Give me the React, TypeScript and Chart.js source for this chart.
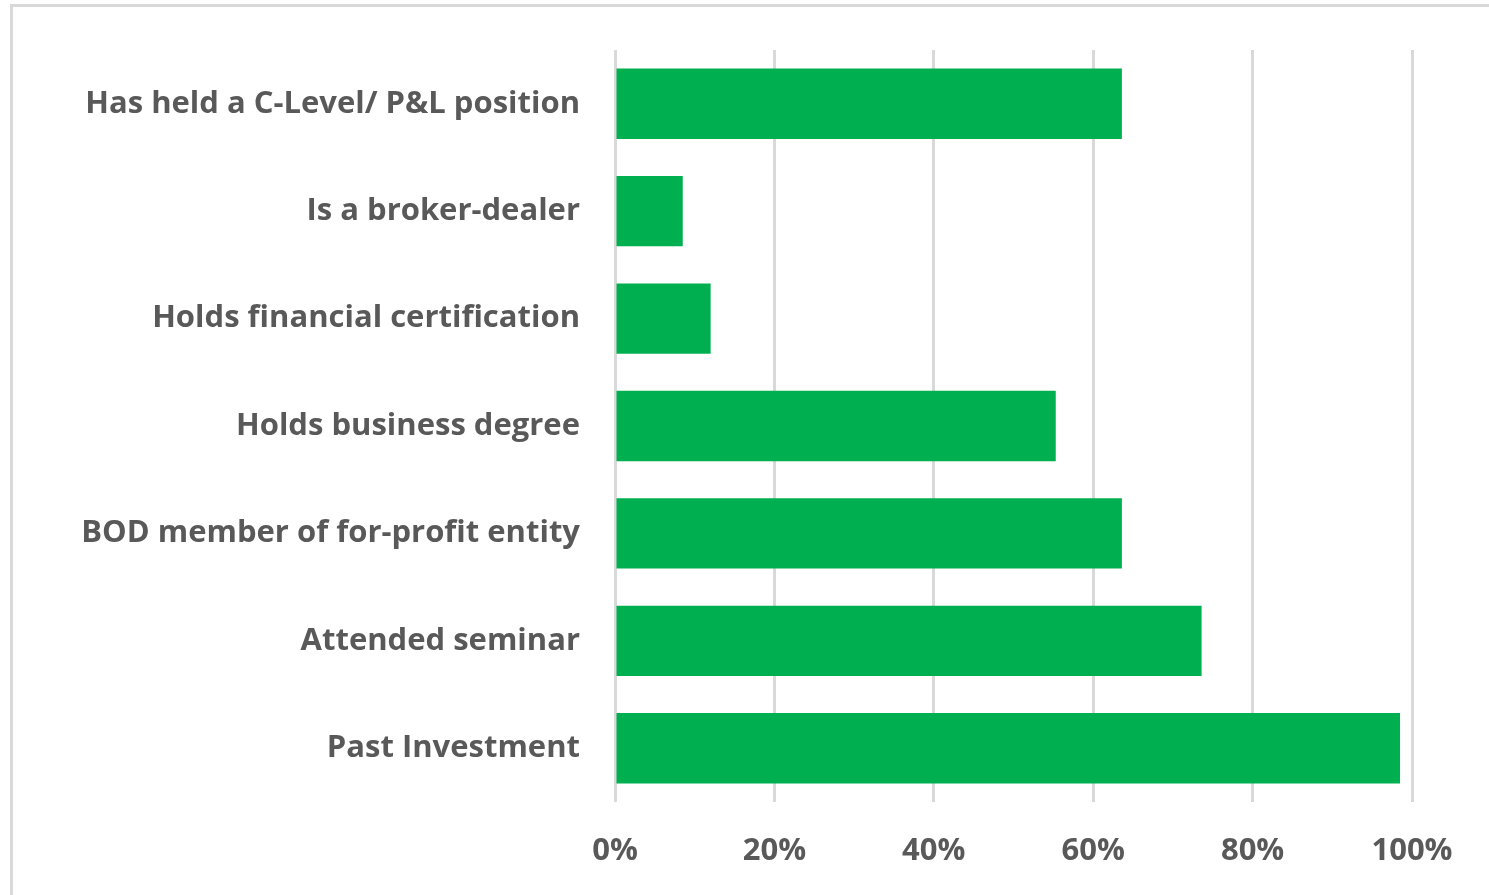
import React, { useEffect, useRef } from "react";
import { Chart, registerables } from "chart.js";

Chart.register(...registerables);

const categories = [
  "Has held a C-Level/ P&L position",
  "Is a broker-dealer",
  "Holds financial certification",
  "Holds business degree",
  "BOD member of for-profit entity",
  "Attended seminar",
  "Past Investment",
];
const values = [63.6, 8.5, 12.0, 55.3, 63.6, 73.6, 98.5];
const xTicks = [0, 20, 40, 60, 80, 100];

const FONT = "'Open Sans', Lato, sans-serif";
const TEXT = "#595959";

export default function App() {
  const ref = useRef<HTMLCanvasElement | null>(null);
  useEffect(() => {
    if (!ref.current) return;
    const chart = new Chart(ref.current, {
      type: "bar",
      data: {
        labels: categories,
        datasets: [
          {
            data: values,
            backgroundColor: "#00b050",
            borderWidth: 0,
            barPercentage: 0.655,
            categoryPercentage: 1,
          },
        ],
      },
      options: {
        indexAxis: "y",
        animation: false,
        responsive: false,
        maintainAspectRatio: false,
        layout: { padding: { top: 50, right: 77, left: 0, bottom: 0 } },
        plugins: { legend: { display: false }, tooltip: { enabled: false }, title: { display: false } },
        scales: {
          x: {
            min: 0,
            max: 100,
            afterBuildTicks: (s: any) => {
              s.ticks = xTicks.map((v) => ({ value: v }));
            },
            afterFit: (s: any) => {
              s.height = 93;
            },
            grid: { color: "#d9d9d9", lineWidth: 3, drawTicks: false },
            border: { display: false },
            ticks: {
              padding: 31,
              color: TEXT,
              font: { family: FONT, size: 31, weight: "bold" },
              callback: (v: any) => v + "%",
            },
          },
          y: {
            afterFit: (s: any) => {
              s.width = 615;
              s.paddingTop = 0;
              s.paddingBottom = 0;
            },
            grid: { display: false, drawTicks: false },
            border: { display: false },
            ticks: {
              padding: 35,
              color: TEXT,
              font: { family: FONT, size: 31, weight: "bold" },
            },
          },
        },
      },
    });
    return () => chart.destroy();
  }, []);
  return (
    <div style={{ position: "fixed", left: 0, top: 0, width: 1489, height: 895, background: "#fff" }}>
      <div
        style={{
          position: "absolute",
          left: 10,
          top: 4,
          width: 1500,
          height: 900,
          borderLeft: "3px solid #d9d9d9",
          borderTop: "3px solid #d9d9d9",
        }}
      />
      <canvas ref={ref} width={1489} height={895} style={{ position: "absolute", left: 0, top: 0 }} />
    </div>
  );
}
